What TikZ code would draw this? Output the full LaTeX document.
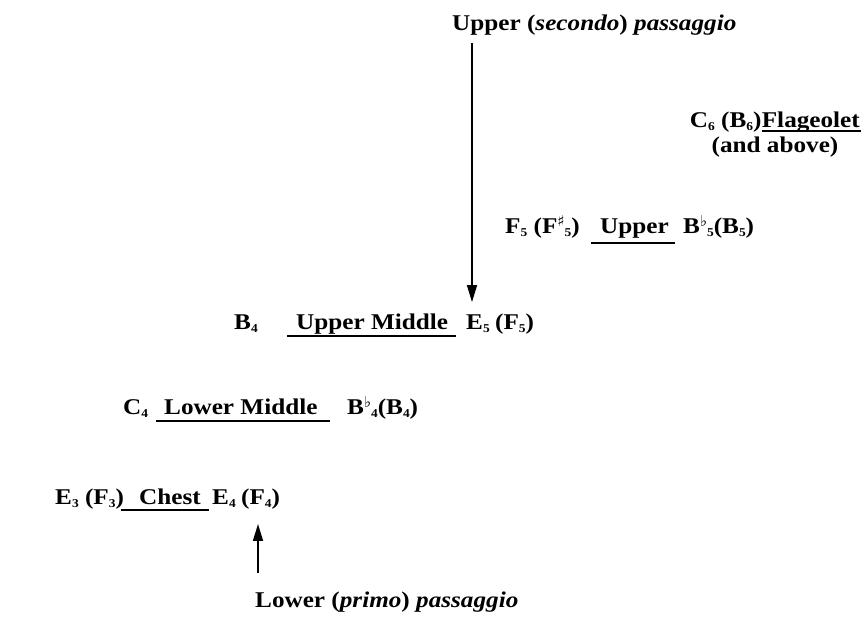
\documentclass[tikz,border=0pt]{standalone}
\usepackage{fontspec}
\setmainfont[FakeStretch=1.12]{Liberation Serif}
\newfontfamily\symfont{DejaVu Sans}
\usetikzlibrary{arrows.meta}
\newcommand\lo[1]{\raisebox{-0.15em}{\fontsize{12}{12}\selectfont #1}}
\newcommand\myflat{\raisebox{0.3em}{\fontsize{15}{15}\selectfont\symfont ♭}}
\newcommand\mysharp{\raisebox{0.3em}{\fontsize{15}{15}\selectfont\symfont ♯}}
\tikzset{
  lbl/.style={anchor=base west, inner sep=0pt, font=\bfseries\fontsize{22.5}{26}\selectfont},
  arr/.style={line width=1.6pt, -{Triangle[length=17pt,width=10pt]}},
  uline/.style={line width=1.3pt}
}
\begin{document}
\begin{tikzpicture}[x=1pt,y=-1pt]
\useasboundingbox[fill=white] (0,0) rectangle (865,638);
% top title
\node[lbl] (up) at (452,30) {Upper (\textit{secondo}) \textit{passaggio}};
% flageolet
\node[lbl, anchor=base east] (flag) at (860,127) {Flageolet};
\node[lbl, anchor=base east] (c6) at (flag.base west) {C\lo{6} (B\lo{6})};
\node[lbl, anchor=base] (above) at (775,152) {(and above)};
\draw[uline] ([shift={(0,4)}]flag.base west) -- ([shift={(1,4)}]flag.base east);
% upper
\node[lbl] (f5) at (505,233) {F\lo{5} (F\mysharp\lo{5})};
\node[lbl] (upr) at (600,233) {Upper};
\node[lbl] (bb5) at (683,233) {B\myflat\lo{5}(B\lo{5})};
\draw[uline] ([shift={(-9,10)}]upr.base west) -- ([shift={(6,10)}]upr.base east);
% upper middle
\node[lbl] (b4) at (234,329) {B\lo{4}};
\node[lbl] (um) at (296,329) {Upper Middle};
\node[lbl] (e5) at (466,329) {E\lo{5}};
\node[lbl] (f5b) at ([xshift=5pt]e5.base east) {(F\lo{5})};
\draw[uline] ([shift={(-9,7)}]um.base west) -- ([shift={(8,7)}]um.base east);
% lower middle
\node[lbl] (c4) at (123,414) {C\lo{4}};
\node[lbl] (lm) at (164,414) {Lower Middle};
\node[lbl] (bb4) at (347,414) {B\myflat\lo{4}(B\lo{4})};
\draw[uline] ([shift={(-8,7)}]lm.base west) -- ([shift={(12,7)}]lm.base east);
% chest
\node[lbl] (e3) at (55,504) {E\lo{3} (F\lo{3})};
\node[lbl] (chest) at (139,504) {Chest};
\node[lbl] (e4) at (212,504) {E\lo{4}};
\node[lbl] (f4) at ([xshift=5pt]e4.base east) {(F\lo{4})};
\draw[uline] ([shift={(-18,6)}]chest.base west) -- ([shift={(8,6)}]chest.base east);
% bottom title
\node[lbl] (lo) at (255,607) {Lower (\textit{primo}) \textit{passaggio}};
% arrows
\draw[arr] ([xshift=6pt]e5.north west |- up.south) ++(0,8) -- ([shift={(6,-12)}]e5.north west);
\draw[arr] ([shift={(3,-18)}]lo.north west) -- ([shift={(3,15)}]lo.north west |- f4.south);
\end{tikzpicture}
\end{document}
